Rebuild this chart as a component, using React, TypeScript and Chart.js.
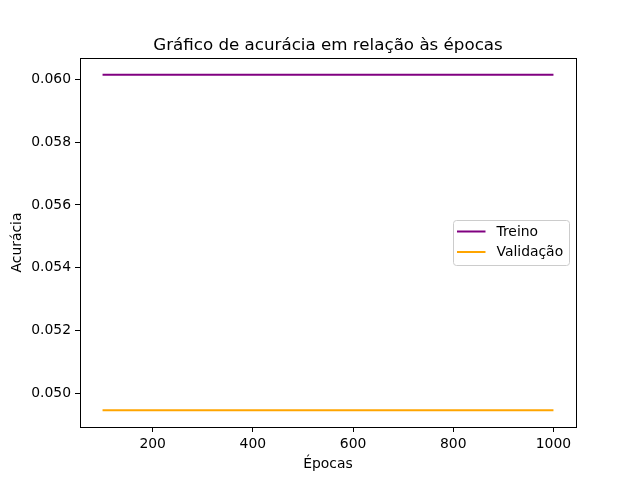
import React, { useEffect, useRef } from "react";
import { Chart, registerables } from "chart.js";

Chart.register(...registerables);

const epochs = [100, 200, 300, 400, 500, 600, 700, 800, 900, 1000];
const trainAcc = [0.06014, 0.06014, 0.06014, 0.06014, 0.06014, 0.06014, 0.06014, 0.06014, 0.06014, 0.06014];
const valAcc = [0.04947, 0.04947, 0.04947, 0.04947, 0.04947, 0.04947, 0.04947, 0.04947, 0.04947, 0.04947];
const xTicks = [200, 400, 600, 800, 1000];
const yTicks = [0.05, 0.052, 0.054, 0.056, 0.058, 0.06];
const titleText = "Gráfico de acurácia em relação às épocas";
const xLabel = "Épocas";
const yLabel = "Acurácia";
const seriesLabels = ["Treino", "Validação"];
const seriesColors = ["#800080", "#FFA500"];

const FONT = "'DejaVu Sans', sans-serif";

export default function App() {
  const ref = useRef<HTMLCanvasElement>(null);
  useEffect(() => {
    document.body.style.margin = "0";
    const canvas = ref.current!;
    const allY = [...trainAcc, ...valAcc];
    const yMinD = Math.min(...allY);
    const yMaxD = Math.max(...allY);
    const yPad = (yMaxD - yMinD) * 0.05;
    const xMinD = Math.min(...epochs);
    const xMaxD = Math.max(...epochs);
    const xPad = (xMaxD - xMinD) * 0.05;

    const decor = {
      id: "decor",
      afterDraw(chart: any) {
        const ctx = chart.ctx;
        const a = chart.chartArea;
        ctx.save();
        ctx.strokeStyle = "#000";
        ctx.lineWidth = 1;
        ctx.strokeRect(Math.round(a.left) + 0.5, Math.round(a.top) + 0.5, Math.round(a.right - a.left), Math.round(a.bottom - a.top));
        ctx.fillStyle = "#000";
        ctx.textAlign = "center";
        ctx.textBaseline = "alphabetic";
        ctx.font = `16.7px ${FONT}`;
        ctx.fillText(titleText, (a.left + a.right) / 2, a.top - 8.5);
        ctx.font = `13.9px ${FONT}`;
        ctx.textBaseline = "middle";
        ctx.fillText(xLabel, (a.left + a.right) / 2, 464);
        ctx.save();
        ctx.translate(17, (a.top + a.bottom) / 2);
        ctx.rotate(-Math.PI / 2);
        ctx.fillText(yLabel, 0, 0);
        ctx.restore();
        // legend
        const bx = 453, by = 220, bw = 116, bh = 45, r = 3;
        ctx.globalAlpha = 0.8;
        ctx.fillStyle = "#fff";
        ctx.beginPath();
        ctx.roundRect(bx + 0.5, by + 0.5, bw, bh, r);
        ctx.fill();
        ctx.globalAlpha = 1;
        ctx.strokeStyle = "#cccccc";
        ctx.lineWidth = 1;
        ctx.stroke();
        ctx.textAlign = "left";
        ctx.font = `13.9px ${FONT}`;
        chart.data.datasets.forEach((ds: any, i: number) => {
          const ly = by + 11.5 + i * 20.5;
          ctx.strokeStyle = ds.borderColor;
          ctx.lineWidth = 2;
          ctx.beginPath();
          ctx.moveTo(457, ly);
          ctx.lineTo(485.5, ly);
          ctx.stroke();
          ctx.fillStyle = "#000";
          ctx.fillText(ds.label, 496.5, ly + 0.5);
        });
        ctx.restore();
      },
    };

    const chart = new Chart(canvas, {
      type: "line",
      data: {
        datasets: [
          {
            label: seriesLabels[0],
            data: epochs.map((x, i) => ({ x, y: trainAcc[i] })),
            borderColor: seriesColors[0],
            backgroundColor: seriesColors[0],
            borderWidth: 2,
            pointRadius: 0,
            tension: 0,
          },
          {
            label: seriesLabels[1],
            data: epochs.map((x, i) => ({ x, y: valAcc[i] })),
            borderColor: seriesColors[1],
            backgroundColor: seriesColors[1],
            borderWidth: 2,
            pointRadius: 0,
            tension: 0,
          },
        ],
      },
      options: {
        animation: false,
        responsive: false,
        devicePixelRatio: 1,
        layout: { padding: { top: 58, right: 64, left: 0, bottom: 0 } },
        plugins: { legend: { display: false }, title: { display: false }, tooltip: { enabled: false } },
        scales: {
          x: {
            type: "linear",
            min: xMinD - xPad,
            max: xMaxD + xPad,
            afterFit(scale: any) { scale.height = 53; },
            afterBuildTicks(scale: any) { scale.ticks = xTicks.map((v) => ({ value: v })); },
            grid: { drawOnChartArea: false, drawTicks: true, tickLength: 5, color: "#000", tickWidth: 1 },
            border: { display: false },
            ticks: { color: "#000", font: { family: FONT, size: 13.9 }, padding: 4, maxRotation: 0, callback: (v: any) => String(v) },
          },
          y: {
            type: "linear",
            min: yMinD - yPad,
            max: yMaxD + yPad,
            afterFit(scale: any) { scale.width = 80; },
            afterBuildTicks(scale: any) { scale.ticks = yTicks.map((v) => ({ value: v })); },
            grid: { drawOnChartArea: false, drawTicks: true, tickLength: 5, color: "#000", tickWidth: 1 },
            border: { display: false },
            ticks: { color: "#000", font: { family: FONT, size: 13.9 }, padding: 4, callback: (v: any) => Number(v).toFixed(3) },
          },
        },
      },
      plugins: [decor],
    });
    return () => chart.destroy();
  }, []);
  return (
    <div style={{ width: 640, height: 480, background: "#fff" }}>
      <canvas ref={ref} width={640} height={480} style={{ display: "block" }} />
    </div>
  );
}
